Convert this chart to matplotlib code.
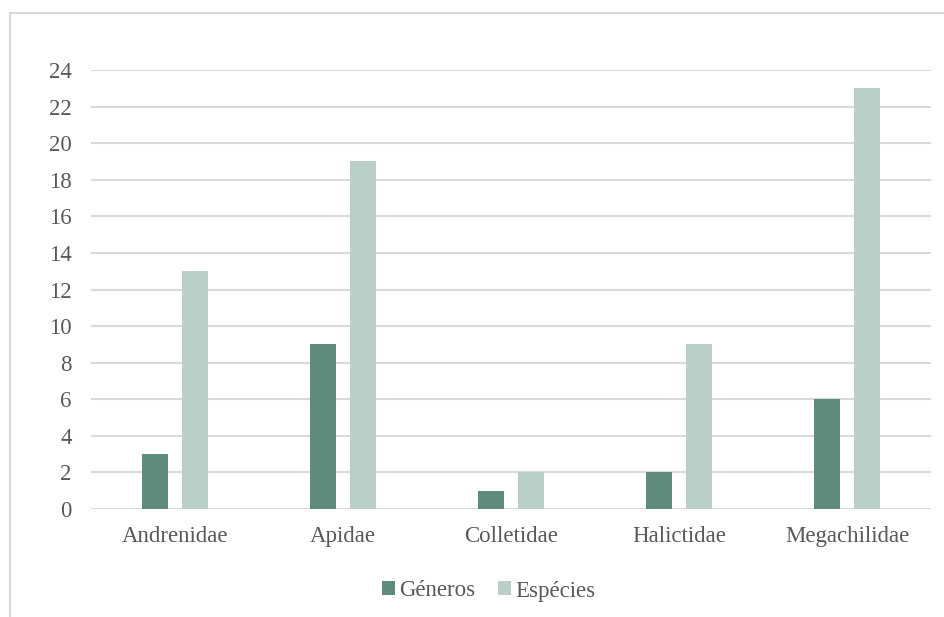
import numpy as np
import matplotlib
matplotlib.use('Agg')
import matplotlib.pyplot as plt
from matplotlib.patches import Rectangle

familias = ['Andrenidae', 'Apidae', 'Colletidae', 'Halictidae', 'Megachilidae']
generos = [3, 9, 1, 2, 6]
especies = [13, 19, 2, 9, 23]
yticks = list(range(0, 25, 2))

plt.rcParams['font.family'] = 'Liberation Serif'
text_color = '#595959'
grid_color = '#D9D9D9'
c_gen = '#5E8B7E'
c_esp = '#B9CFC8'

fig = plt.figure(figsize=(9.44, 6.17), dpi=100)
ax = fig.add_axes([91 / 944, 1 - 509 / 617, 840 / 944, 439 / 617])

xs = np.arange(len(familias))
width = 0.155
off = 0.119
ax.bar(xs - off, generos, width=width, color=c_gen, label='Géneros', zorder=3)
ax.bar(xs + off, especies, width=width, color=c_esp, label='Espécies', zorder=3)

ax.set_xlim(-0.5, len(familias) - 0.5)
ax.set_ylim(0, 24)
ax.set_yticks(yticks)
ax.set_xticks(xs)
ax.set_xticklabels(familias)
ax.tick_params(axis='both', length=0, labelsize=16.5, colors=text_color)
ax.tick_params(axis='x', pad=12)
ax.tick_params(axis='y', pad=14)
ax.yaxis.grid(True, color=grid_color, linewidth=1.5, zorder=0)
for s in ax.spines.values():
    s.set_visible(False)

leg = fig.legend(loc='center', bbox_to_anchor=(489 / 944, 1 - 591 / 617),
                 ncol=2, frameon=False, fontsize=16.5, handlelength=0.55,
                 handleheight=0.55, handletextpad=0.2, columnspacing=1.0)
for t in leg.get_texts():
    t.set_color(text_color)

# chart frame
fig.patches.append(Rectangle((10 / 944, -0.1), 1.2, 1 - 13 / 617 + 0.1,
                             transform=fig.transFigure, fill=False,
                             edgecolor=grid_color, linewidth=1.5))

fig.savefig('out.png', dpi=100)
